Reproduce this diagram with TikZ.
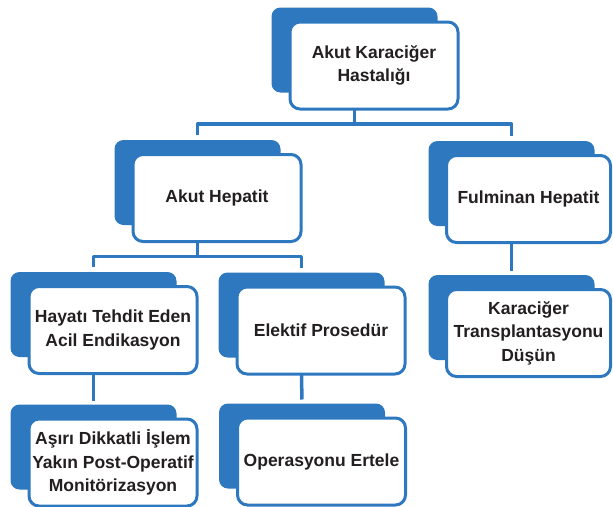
\documentclass[tikz,border=0pt]{standalone}
\usepackage{fontspec}
\setmainfont{Liberation Sans}
\usepackage{xcolor}
\definecolor{kblue}{RGB}{46,120,192}
\definecolor{ktext}{RGB}{35,31,32}

\begin{document}
\begin{tikzpicture}[x=1pt,y=-1pt,line join=round,
  backbox/.style={fill=kblue,rounded corners=9pt,minimum width=166pt,minimum height=85pt,inner sep=0pt,outer sep=0pt},
  frontbox/.style={draw=kblue,fill=white,line width=3pt,rounded corners=10pt,minimum width=168pt,minimum height=87pt,inner sep=2pt,outer sep=0pt,align=center,text=ktext,font=\fontsize{17.5}{23.5}\selectfont\bfseries},
  wire/.style={draw=kblue,line width=3.5pt}]
\useasboundingbox (0,0) rectangle (613,506);
% back shapes
\node[backbox] (hast-b) at (354.5,50) {};
\node[backbox] (akut-b) at (197.5,182.5) {};
\node[backbox] (fulm-b) at (511.5,183.5) {};
\node[backbox] (hayati-b) at (93.5,314.5) {};
\node[backbox] (elektif-b) at (301.5,315) {};
\node[backbox] (transp-b) at (511.5,317.5) {};
\node[backbox] (dikkat-b) at (93.5,447) {};
\node[backbox] (ertele-b) at (302,446) {};
% boxes
\node[frontbox] (hast) at ([shift={(19.5,15.5)}]hast-b) {Akut Karaciğer\\Hastalığı};
\node[frontbox] (akut) at ([shift={(19.5,15.5)}]akut-b) {Akut Hepatit};
\node[frontbox,minimum width=164pt] (fulm) at ([shift={(17,15.5)}]fulm-b) {Fulminan Hepatit};
\node[frontbox] (hayati) at ([shift={(19.5,15.5)}]hayati-b) {Hayatı Tehdit Eden\\Acil Endikasyon};
\node[frontbox] (elektif) at ([shift={(19.5,15.5)}]elektif-b) {Elektif Prosedür};
\node[frontbox,minimum width=164pt] (transp) at ([shift={(17,15.5)}]transp-b) {Karaciğer\\Transplantasyonu\\Düşün};
\node[frontbox] (dikkat) at ([shift={(19.5,15.5)}]dikkat-b) {Aşırı Dikkatli İşlem\\Yakın Post-Operatif\\Monitörizasyon};
\node[frontbox] (ertele) at ([shift={(19.5,15.5)}]ertele-b) {Operasyonu Ertele};
% connectors
\draw[wire] (hast-b |- hast.south) -- ++(0,15) coordinate (bus1);
\draw[wire,shorten <=5pt,shorten >=5pt] (akut-b.north) |- (bus1) -| (fulm-b.north);
\draw[wire] (akut-b |- akut.south) -- ++(0,15) coordinate (bus2);
\draw[wire,shorten <=5pt,shorten >=5pt] (hayati-b.north) |- (bus2) -| (elektif-b.north);
\draw[wire,shorten >=4pt] (fulm-b |- fulm.south) -- (transp-b.north);
\draw[wire,shorten >=4pt] (hayati-b |- hayati.south) -- (dikkat-b.north);
\draw[wire,shorten >=4pt] (elektif-b |- elektif.south) -- (ertele-b.north);
\end{tikzpicture}
\end{document}
